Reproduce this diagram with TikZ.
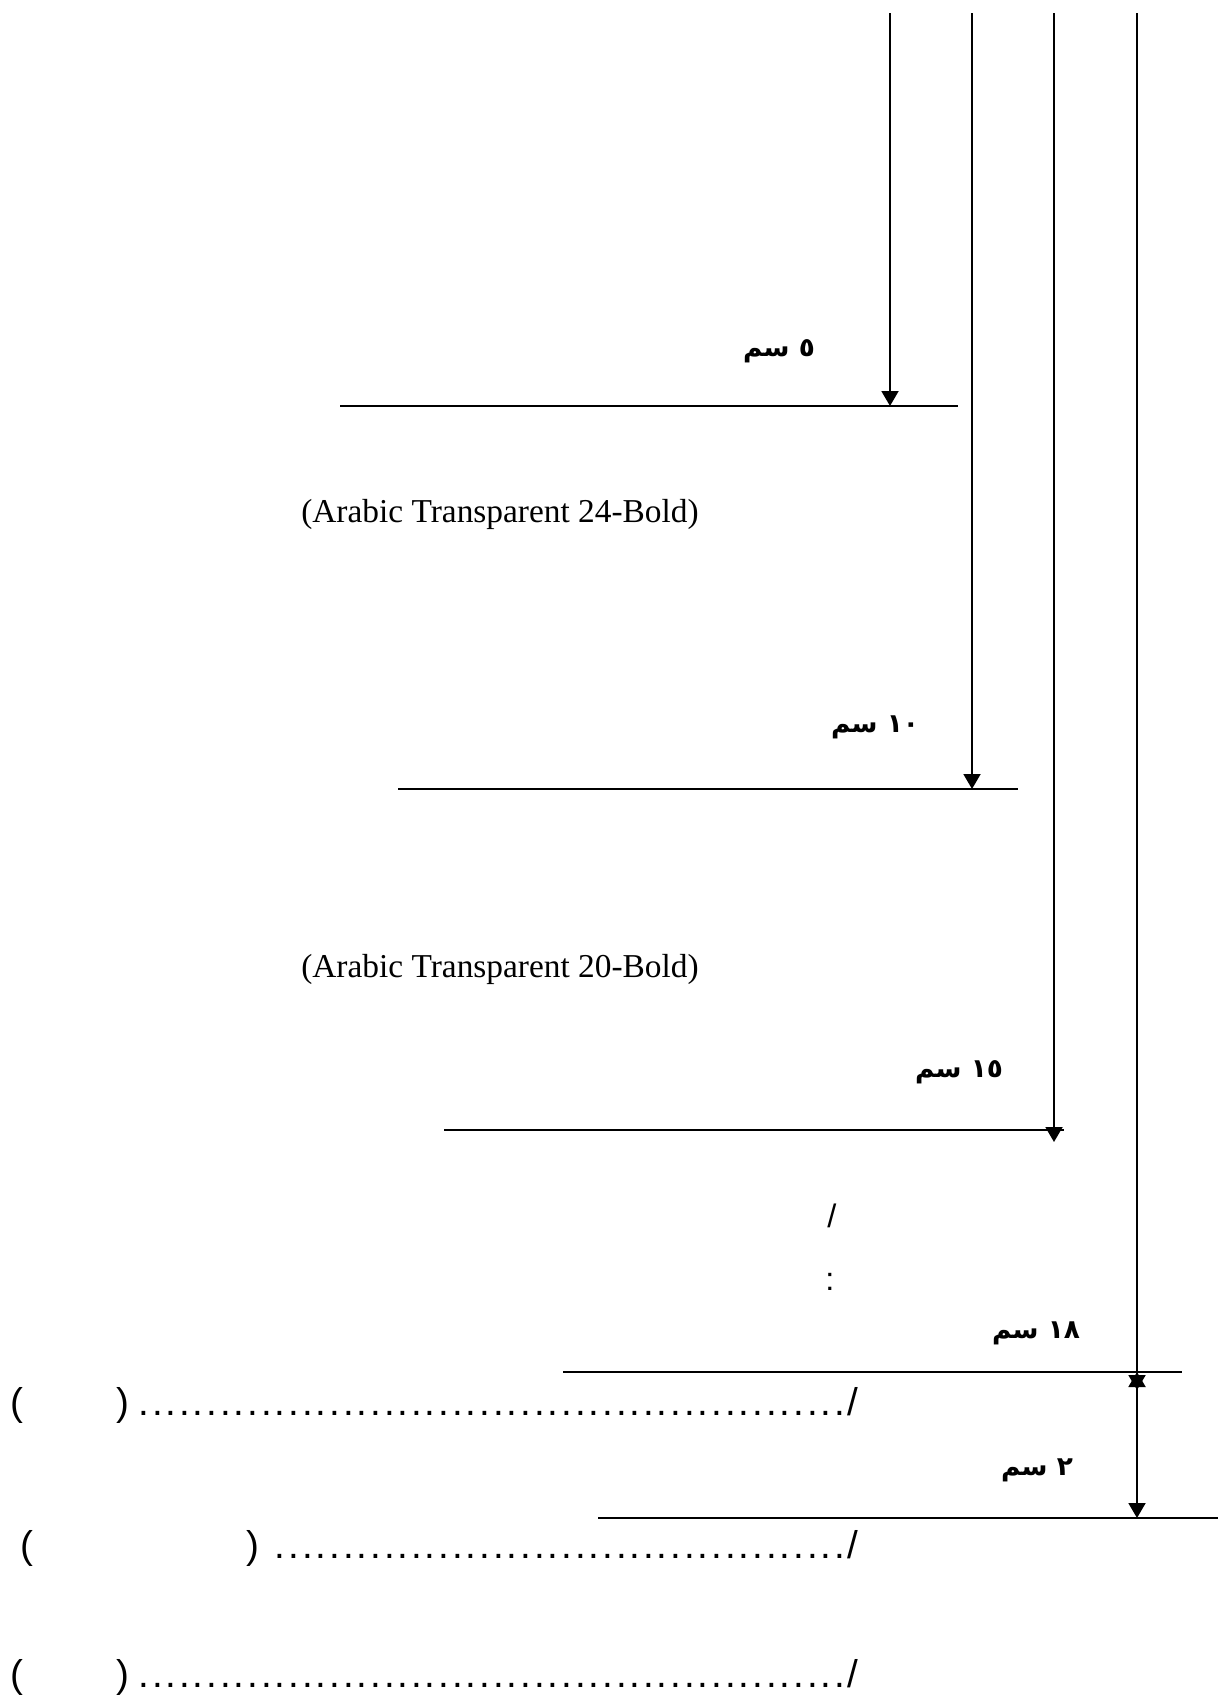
\documentclass[tikz,border=0pt]{standalone}
\usepackage{fontspec}
\setmainfont{Liberation Serif}
\newfontfamily\formfont{Liberation Sans}
\newfontfamily\arabicfont[Script=Arabic]{DejaVu Sans}
\TeXXeTstate=1
\usetikzlibrary{arrows.meta}
\newcommand\dotrun[1]{\cleaders\hbox to 0.2728cm{\hss.\hss}\hskip #1}

\begin{document}
\begin{tikzpicture}[
      rule/.style={line width=1.1pt},
      dim/.style={line width=1.1pt,-{Triangle[length=0.3cm,width=0.34cm]}},
      twodim/.style={line width=1.1pt,{Triangle[length=0.3cm,width=0.34cm]}-{Triangle[length=0.3cm,width=0.34cm]}},
      sizelabel/.style={inner sep=0pt,font=\arabicfont\bfseries\fontsize{15}{18}\selectfont},
      fontnote/.style={inner sep=0pt,font=\fontsize{19}{22}\selectfont},
      punct/.style={inner sep=0pt,anchor=base,font=\formfont\fontsize{18.5}{22}\selectfont},
      formrow/.style={inner sep=0pt,anchor=base west,font=\formfont\fontsize{22}{26}\selectfont},
    ]
    \useasboundingbox (0,0) rectangle (24.54,-34.14);
    % the four rules and their arrows from the top edge
    \foreach \i/\x/\y/\a/\b/\e in {1/17.80/-8.12/6.80/19.16/-8.12,
        2/19.44/-15.78/7.96/20.36/-15.78,
        3/21.08/-22.60/8.88/21.28/-22.84,
        4/22.74/-27.44/11.26/23.64/-27.80}{
      \draw[rule] (\a,\y) coordinate (r\i w) -- (\b,\y) coordinate (r\i e);
      \coordinate (t\i) at (\x,-0.26);
      \coordinate (h\i) at (\x,\e);
      \draw[dim] (t\i) -- (h\i);
    };
    \draw[rule] (11.96,-30.36) coordinate (r5w) -- (24.36,-30.36) coordinate (r5e);
    \draw[twodim] (t4 |- r4w) -- (t4 |- r5w);

    \node[sizelabel] (l5) at (15.58,-7.02) {\beginR ٥ سم\endR};
    \node[sizelabel] (l10) at (17.50,-14.54) {\beginR ١٠ سم\endR};
    \node[sizelabel] (l15) at (19.18,-21.44) {\beginR ١٥ سم\endR};
    \node[sizelabel] (l18) at (20.72,-26.66) {\beginR ١٨ سم\endR};
    \node[sizelabel] (l2) at (20.74,-29.40) {\beginR ٢ سم\endR};

    \node[fontnote] (f24) at (10.00,-10.28) {(Arabic Transparent 24-Bold)};
    \node[fontnote] (f20) at (10.00,-19.38) {(Arabic Transparent 20-Bold)};

    \node[punct] (slash) at (16.64,-24.54) {/};
    \node[punct] (colon) at (16.60,-25.80) {:};

    % form lines: 52, 42 and 52 dots
    \node[formrow] (row1) at (0.20,-28.30) {(\hspace{1.87cm})\hspace{0.12cm}\dotrun{14.24cm}/};
    \node[formrow] (row2) at (0.40,-31.16) {(\hspace{4.26cm})\hspace{0.26cm}\dotrun{11.51cm}/};
    \node[formrow] (row3) at (0.20,-33.74) {(\hspace{1.87cm})\hspace{0.12cm}\dotrun{14.24cm}/};
  \end{tikzpicture}
\end{document}
